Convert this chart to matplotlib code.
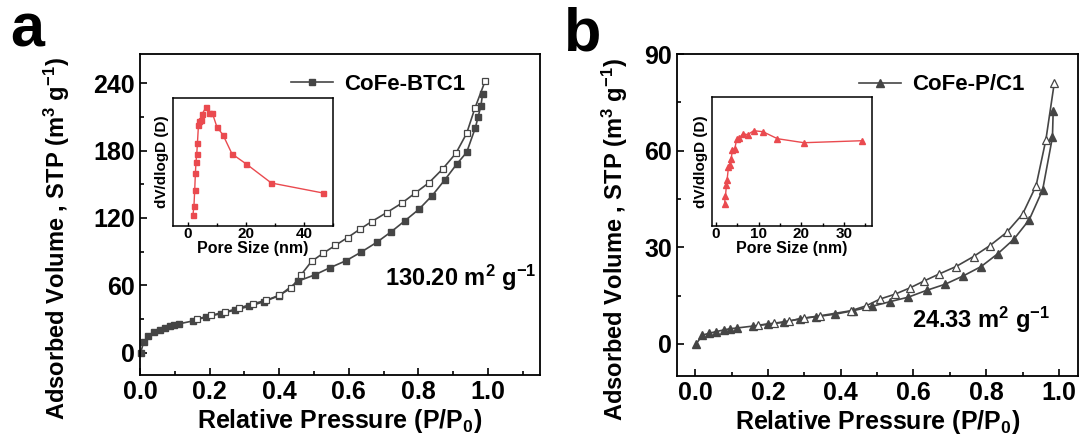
import matplotlib
matplotlib.use("Agg")
import matplotlib.pyplot as plt
from matplotlib.ticker import MultipleLocator

plt.rcParams['font.family'] = ['Liberation Sans', 'DejaVu Sans']
plt.rcParams['font.weight'] = 'bold'
plt.rcParams['axes.labelweight'] = 'bold'
plt.rcParams['mathtext.fontset'] = 'custom'
plt.rcParams['mathtext.rm'] = 'Liberation Sans:bold'
plt.rcParams['mathtext.bf'] = 'Liberation Sans:bold'
plt.rcParams['mathtext.default'] = 'bf'

# panel a: CoFe-BTC1 isotherm
a_ads_x = [0.002, 0.010, 0.024, 0.041, 0.057, 0.072, 0.086, 0.099, 0.111, 0.151, 0.190,
           0.233, 0.274, 0.314, 0.356, 0.400, 0.455, 0.503, 0.546, 0.592, 0.634, 0.680,
           0.722, 0.761, 0.802, 0.840, 0.876, 0.910, 0.939, 0.964, 0.972, 0.980, 0.985]
a_ads_y = [0.0, 9.2, 15.1, 18.1, 20.4, 21.9, 23.4, 24.3, 25.5, 28.1, 31.7,
           34.7, 37.9, 41.2, 45.3, 50.7, 63.7, 69.3, 75.6, 81.8, 89.2, 98.1,
           107.6, 117.3, 127.7, 139.9, 153.8, 167.7, 178.4, 200.3, 210.0, 219.9, 230.8]
a_des_x = [0.992, 0.963, 0.939, 0.908, 0.870, 0.831, 0.790, 0.752, 0.709, 0.666, 0.632,
           0.597, 0.561, 0.527, 0.493, 0.463, 0.435, 0.400, 0.362, 0.326, 0.285, 0.245,
           0.204, 0.165]
a_des_y = [241.8, 218.0, 195.3, 177.5, 163.6, 151.4, 141.9, 133.0, 124.7, 116.7, 109.9,
           102.5, 95.4, 88.6, 81.2, 69.3, 57.5, 51.0, 46.5, 43.6, 39.7, 36.1,
           33.2, 29.9]
# inset a: pore size distribution (relative units)
a_pore_x = [1.86, 2.2, 2.46, 2.7, 2.9, 3.16, 3.4, 3.75, 4.1, 4.56, 5.0, 6.4, 7.4, 8.5,
            10.1, 12.2, 15.3, 20.2, 28.8, 46.6]
a_pore_y = [11, 20, 36, 53, 64, 72, 83, 101, 105, 106, 112, 119, 113, 113,
            99, 91, 72, 62, 43, 33]

# panel b: CoFe-P/C1 isotherm
b_ads_x = [0.003, 0.020, 0.039, 0.058, 0.078, 0.096, 0.114, 0.158, 0.201, 0.245, 0.288,
           0.331, 0.385, 0.435, 0.485, 0.536, 0.586, 0.636, 0.687, 0.737, 0.786, 0.832,
           0.876, 0.918, 0.955, 0.982, 0.984]
b_ads_y = [0.0, 2.7, 3.3, 3.8, 4.3, 4.7, 4.9, 5.5, 6.1, 6.7, 7.8,
           8.4, 9.2, 10.3, 11.6, 13.1, 14.5, 16.6, 18.5, 21.1, 24.0, 28.0,
           32.5, 38.5, 47.8, 64.2, 72.4]
b_des_x = [0.987, 0.964, 0.937, 0.900, 0.856, 0.810, 0.765, 0.717, 0.669, 0.629, 0.591,
           0.549, 0.508, 0.470, 0.429, 0.343, 0.300, 0.259, 0.217, 0.174]
b_des_y = [81.0, 63.4, 49.1, 40.3, 34.6, 30.5, 27.1, 24.0, 21.6, 19.5, 17.4,
           15.4, 13.9, 11.8, 10.3, 8.7, 8.0, 7.1, 6.4, 5.8]
b_pore_x = [1.99, 2.22, 2.45, 2.6, 2.92, 3.2, 3.55, 3.86, 4.4, 4.87, 5.5, 6.35, 7.4,
            8.84, 11.0, 14.4, 20.6, 34.3]
b_pore_y = [22, 30, 41, 46, 59, 61, 67, 76, 77, 87, 88, 92, 91, 95, 94, 87, 83, 85]

gray = '#454545'
red = '#ea4a4f'

fig = plt.figure(figsize=(10.84, 4.43), dpi=100)
ax_a = fig.add_axes([0.1292, 0.1535, 0.369, 0.7246])
ax_b = fig.add_axes([0.6245, 0.1512, 0.3699, 0.7269])
in_a = fig.add_axes([0.1596, 0.4898, 0.1476, 0.289])
in_b = fig.add_axes([0.6566, 0.4905, 0.1476, 0.2912])


def style_main(ax, label_x):
    ax.tick_params(which='both', direction='in', width=1.2, labelsize=18)
    ax.tick_params(which='major', length=5)
    ax.tick_params(which='minor', length=3)
    for s in ax.spines.values():
        s.set_linewidth(1.3)
    ax.set_xlabel('Relative Pressure (P/P$_0$)', fontsize=18, labelpad=2)
    ax.set_ylabel('Adsorbed Volume , STP (m$^3$ g$^{-1}$)', fontsize=17)
    ax.yaxis.set_label_coords(label_x, 0.425)
    ax.xaxis.set_major_locator(MultipleLocator(0.2))
    ax.xaxis.set_minor_locator(MultipleLocator(0.1))


def style_inset(ax):
    ax.tick_params(axis='x', which='both', direction='in', width=1, labelsize=11, pad=1)
    ax.tick_params(axis='x', which='major', length=3)
    ax.tick_params(axis='x', which='minor', length=2)
    ax.tick_params(axis='y', left=False, labelleft=False)
    for s in ax.spines.values():
        s.set_linewidth(1.1)
    ax.set_xlabel('Pore Size (nm)', fontsize=11.5, labelpad=0)
    ax.set_ylabel('dV/dlogD (D)', fontsize=11, labelpad=3)


# panel a
ax_a.plot(a_ads_x, a_ads_y, '-s', color=gray, ms=5, lw=1.2, mfc=gray, mec=gray,
          label='CoFe-BTC1', clip_on=False)
ax_a.plot(a_des_x, a_des_y, '-s', color=gray, ms=5, lw=1.2, mfc='white', mec=gray,
          mew=0.9, clip_on=False)
ax_a.set_xlim(0, 1.15)
ax_a.set_ylim(-20, 266)
ax_a.yaxis.set_major_locator(MultipleLocator(60))
ax_a.yaxis.set_minor_locator(MultipleLocator(30))
style_main(ax_a, -0.17)
ax_a.text(0.922, 66.7, '130.20 m$^2$ g$^{-1}$', fontsize=17, ha='center', va='center')
ax_a.legend(loc='center left', bbox_to_anchor=(0.3775, 0.9065), frameon=False,
            fontsize=16, handlelength=1.9, handletextpad=0.5, borderpad=0, borderaxespad=0)

in_a.plot(a_pore_x, a_pore_y, '-s', color=red, ms=3.6, lw=1)
in_a.set_xlim(-5, 50)
in_a.set_ylim(0, 128)
in_a.xaxis.set_major_locator(MultipleLocator(20))
in_a.xaxis.set_minor_locator(MultipleLocator(10))
style_inset(in_a)

# panel b
ax_b.plot(b_ads_x, b_ads_y, '-^', color=gray, ms=6, lw=1.2, mfc=gray, mec=gray,
          label='CoFe-P/C1')
ax_b.plot(b_des_x, b_des_y, '-^', color=gray, ms=6, lw=1.2, mfc='white', mec=gray,
          mew=0.9)
ax_b.set_xlim(-0.05, 1.052)
ax_b.set_ylim(-10, 90)
ax_b.yaxis.set_major_locator(MultipleLocator(30))
ax_b.yaxis.set_minor_locator(MultipleLocator(15))
style_main(ax_b, -0.117)
ax_b.text(0.786, 7.5, '24.33 m$^2$ g$^{-1}$', fontsize=17, ha='center', va='center')
ax_b.legend(loc='center left', bbox_to_anchor=(0.454, 0.904), frameon=False,
            fontsize=16, handlelength=1.9, handletextpad=0.5, borderpad=0, borderaxespad=0)

in_b.plot(b_pore_x, b_pore_y, '-^', color=red, ms=4, lw=1)
in_b.set_xlim(-1, 36.5)
in_b.set_ylim(0, 129)
in_b.xaxis.set_major_locator(MultipleLocator(10))
in_b.xaxis.set_minor_locator(MultipleLocator(5))
style_inset(in_b)

fig.text(0.009, 0.895, 'a', fontsize=44, fontweight='bold')
fig.text(0.52, 0.885, 'b', fontsize=44, fontweight='bold')

fig.savefig('out.png', dpi=100)
